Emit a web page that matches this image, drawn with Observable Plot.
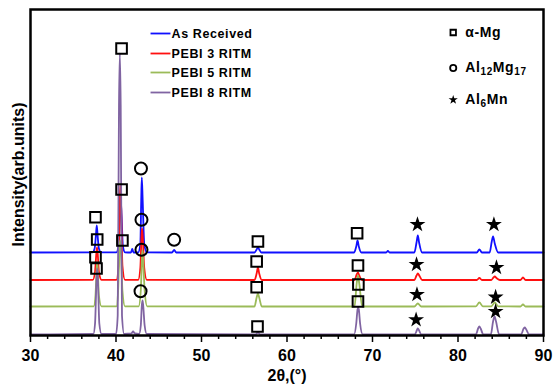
<!DOCTYPE html>
<html><head><meta charset="utf-8">
<script src="https://cdn.jsdelivr.net/npm/d3@7"></script>
<script src="https://cdn.jsdelivr.net/npm/@observablehq/plot@0.6"></script>
<style>body{margin:0;background:#fff}</style>
</head><body><div id="chart"></div>
<script>
const seriesNames = ["As Received", "PEBI 3 RITM", "PEBI 5 RITM", "PEBI 8 RITM"];
const seriesColors = ["#1010ff", "#ff1010", "#9bbb59", "#8064a2"];

const asReceived = [[30,830],[37.25,832],[37.5,870],[37.65,1000],[37.75,1100],[37.85,1000],[38.0,870],[38.25,832],
 [40.05,832],[40.3,900],[40.45,1200],[40.55,1350],[40.65,1200],[40.8,900],[41.05,832],
 [41.75,830],[41.9,865],[42.05,830],
 [42.6,832],[42.85,920],[42.95,1350],[43.02,1580],[43.12,1350],[43.3,920],[43.6,832],
 [46.55,830],[46.8,855],[47.05,830],
 [56.2,830],[56.45,860],[56.6,880],[56.75,860],[57.0,830],
 [67.85,830],[68.1,890],[68.25,950],[68.4,890],[68.7,830],
 [71.6,830],[71.8,845],[72.0,830],
 [74.9,830],[75.15,930],[75.3,1000],[75.45,930],[75.8,830],
 [82.2,830],[82.5,860],[82.8,830],
 [83.7,830],[83.95,940],[84.1,990],[84.3,920],[84.7,830],
 [90,830]];

const pebi3 = [[30,555],[37.3,557],[37.55,640],[37.7,820],[37.78,880],[37.86,820],[38.0,640],[38.3,557],
 [40.05,557],[40.3,700],[40.42,1300],[40.5,1500],[40.6,1300],[40.75,700],[41.05,557],
 [42.6,557],[42.85,680],[42.98,980],[43.05,1070],[43.13,980],[43.3,680],[43.6,557],
 [56.2,555],[56.45,620],[56.6,680],[56.75,620],[57.05,555],
 [67.9,555],[68.15,610],[68.3,630],[68.45,600],[68.8,555],
 [74.9,555],[75.15,600],[75.3,620],[75.5,595],[75.8,555],
 [82.2,555],[82.5,575],[82.8,555],
 [83.9,555],[84.15,580],[84.3,590],[84.5,575],[84.9,555],
 [87.3,555],[87.6,580],[87.9,555],
 [90,555]];

const pebi5 = [[30,290],[37.4,292],[37.6,400],[37.73,650],[37.8,730],[37.87,650],[38.0,400],[38.3,292],
 [40.05,292],[40.25,450],[40.4,850],[40.48,950],[40.58,850],[40.75,450],[41.05,292],
 [42.65,292],[42.9,450],[43.03,760],[43.1,850],[43.17,760],[43.35,450],[43.65,292],
 [56.2,290],[56.45,380],[56.6,420],[56.75,380],[57.05,290],
 [67.9,290],[68.15,520],[68.3,600],[68.45,520],[68.8,290],
 [74.9,290],[75.3,320],[75.7,290],
 [82.1,292],[82.5,330],[82.9,292],
 [83.9,292],[84.3,330],[84.7,292],
 [87.3,290],[87.6,310],[87.9,290],
 [90,290]];

const pebi8 = [[30,10],[37.35,15],[37.55,120],[37.72,560],[37.8,670],[37.88,560],[38.05,120],[38.3,15],
 [40.0,15],[40.2,200],[40.35,2300],[40.45,2820],[40.55,2300],[40.7,200],[40.95,15],
 [41.8,20],[42.0,40],[42.2,20],
 [42.7,15],[42.9,100],[43.02,300],[43.1,350],[43.18,300],[43.35,100],[43.6,15],
 [56.3,10],[56.6,30],[56.9,10],
 [67.85,12],[68.1,120],[68.25,260],[68.32,280],[68.4,260],[68.55,120],[68.85,12],
 [74.95,10],[75.2,55],[75.3,70],[75.45,50],[75.7,10],
 [82.1,12],[82.35,70],[82.5,90],[82.65,70],[82.95,12],
 [83.85,12],[84.1,140],[84.28,190],[84.45,140],[84.8,12],
 [87.4,12],[87.65,65],[87.8,80],[87.95,65],[88.3,12],
 [90,10]];

const seriesData = [asReceived, pebi3, pebi5, pebi8];

// phase markers [2θ, intensity]
const squareMarkers = [[37.6,1183],[37.8,960],[37.6,783],[37.72,670],[40.65,2870],[40.65,1460],[40.75,950],
 [56.6,940],[56.45,740],[56.45,483],[56.55,90],[68.2,1023],[68.3,700],[68.35,510],[68.3,340]];
const circleMarkers = [[42.92,1670],[42.98,1157],[42.98,857],[42.87,443],[46.8,957]];
const starMarkers = [[75.26,1110],[84.2,1110],[75.15,710],[84.5,680],[75.2,410],[84.4,383],[75.1,157],[84.4,240]];

const xMajorTicks = [30, 40, 50, 60, 70, 80, 90];
const xMinorTicks = d3.range(30, 91, 2).filter(v => v % 10 !== 0);

// legend entries (positions in data space)
const seriesLegendY = [3020, 2820, 2630, 2430];
const seriesLegendX = [44.04, 46.37, 46.5];
const phaseLegend = [
  {symbol: "square", label: "α-Mg", y: 3030},
  {symbol: "circle", label: "Al12Mg17", y: 2675},
  {symbol: "star", label: "Al6Mn", y: 2357}
];
const phaseLegendX = [79.44, 80.85];

const rows = [];
seriesData.forEach((arr, i) => arr.forEach(([x, y]) => rows.push({series: seriesNames[i], x, y})));
const toObj = arr => arr.map(([x, y]) => ({x, y}));

const legendRows = seriesNames.map((s, i) => ({series: s, y: seriesLegendY[i]}));

const chart = Plot.plot({
  width: 553, height: 388,
  marginLeft: 30, marginRight: 10, marginTop: 9, marginBottom: 53,
  x: {domain: [30, 90], label: null},
  y: {domain: [0, 3260], axis: null},
  style: {fontFamily: "'Liberation Sans', Arial, sans-serif", background: "white", color: "black"},
  marks: [
    ...seriesNames.map((s, i) => Plot.line(rows.filter(r => r.series === s), {x: "x", y: "y", stroke: seriesColors[i], strokeWidth: 1.8, curve: "monotone-x"})),
    Plot.dot(toObj(squareMarkers), {x: "x", y: "y", symbol: "square", r: 6, stroke: "black", strokeWidth: 2, fill: "none"}),
    Plot.dot(toObj(circleMarkers), {x: "x", y: "y", symbol: "circle", r: 6, stroke: "black", strokeWidth: 2, fill: "none"}),
    Plot.dot(toObj(starMarkers), {x: "x", y: "y", symbol: "star", r: 5, fill: "black", stroke: "none"}),
    // series legend
    Plot.link(legendRows, {x1: () => seriesLegendX[0], x2: () => seriesLegendX[1], y1: "y", y2: "y", stroke: (d, i) => seriesColors[i], strokeWidth: 1.8}),
    Plot.text(legendRows, {x: () => seriesLegendX[2], y: "y", text: "series", textAnchor: "start", fontSize: 12.5, fontWeight: "bold", fill: "black"}),
    // phase legend
    Plot.dot(phaseLegend, {x: () => phaseLegendX[0], y: "y", symbol: "symbol", r: d => d.symbol === "star" ? 4.8 : 5.5, stroke: d => d.symbol === "star" ? "none" : "black", fill: d => d.symbol === "star" ? "black" : "none", strokeWidth: 1.8}),
    Plot.text(phaseLegend, {x: () => phaseLegendX[1], y: "y", text: "label", textAnchor: "start", fontSize: 14, fontWeight: "bold", fill: "black"}),
    Plot.frame({stroke: "black", strokeWidth: 2.5}),
    Plot.axisX({ticks: xMinorTicks, tickSize: 4, tickFormat: () => "", strokeWidth: 1.5, label: null}),
    Plot.axisX({ticks: xMajorTicks, tickSize: 7, tickPadding: 7, tickFormat: d => String(d), fontSize: 16, fontWeight: "bold", strokeWidth: 1.5, label: null}),
    Plot.text(["2θ,(°)"], {frameAnchor: "bottom", lineAnchor: "middle", textAnchor: "middle", dy: 40, fontSize: 16, fontWeight: "bold", fill: "black"}),
    Plot.text(["Intensity(arb.units)"], {frameAnchor: "left", textAnchor: "middle", lineAnchor: "middle", rotate: -90, dx: -12, dy: 2, fontSize: 16, fontWeight: "bold", fill: "black"})
  ]
});

// subscripts and letter spacing for legend texts
const NS = "http://www.w3.org/2000/svg";
chart.querySelectorAll("text").forEach(t => {
  const s = t.textContent;
  if (seriesNames.includes(s) || ["α-Mg", "Al12Mg17", "Al6Mn"].includes(s)) t.setAttribute("letter-spacing", "0.6");
  const m = s.match(/^Al(\d+)(Mg|Mn)(\d*)$/);
  if (m) {
    while (t.firstChild) t.removeChild(t.firstChild);
    const add = (txt, sub, dy) => {
      const ts = document.createElementNS(NS, "tspan");
      ts.textContent = txt;
      if (sub) ts.setAttribute("font-size", "10");
      if (dy) ts.setAttribute("dy", dy);
      t.appendChild(ts);
    };
    add("Al", false, 0);
    add(m[1], true, 3);
    add(m[2], false, -3);
    if (m[3]) add(m[3], true, 3);
  }
});

document.getElementById("chart").appendChild(chart);
</script>
</body></html>
